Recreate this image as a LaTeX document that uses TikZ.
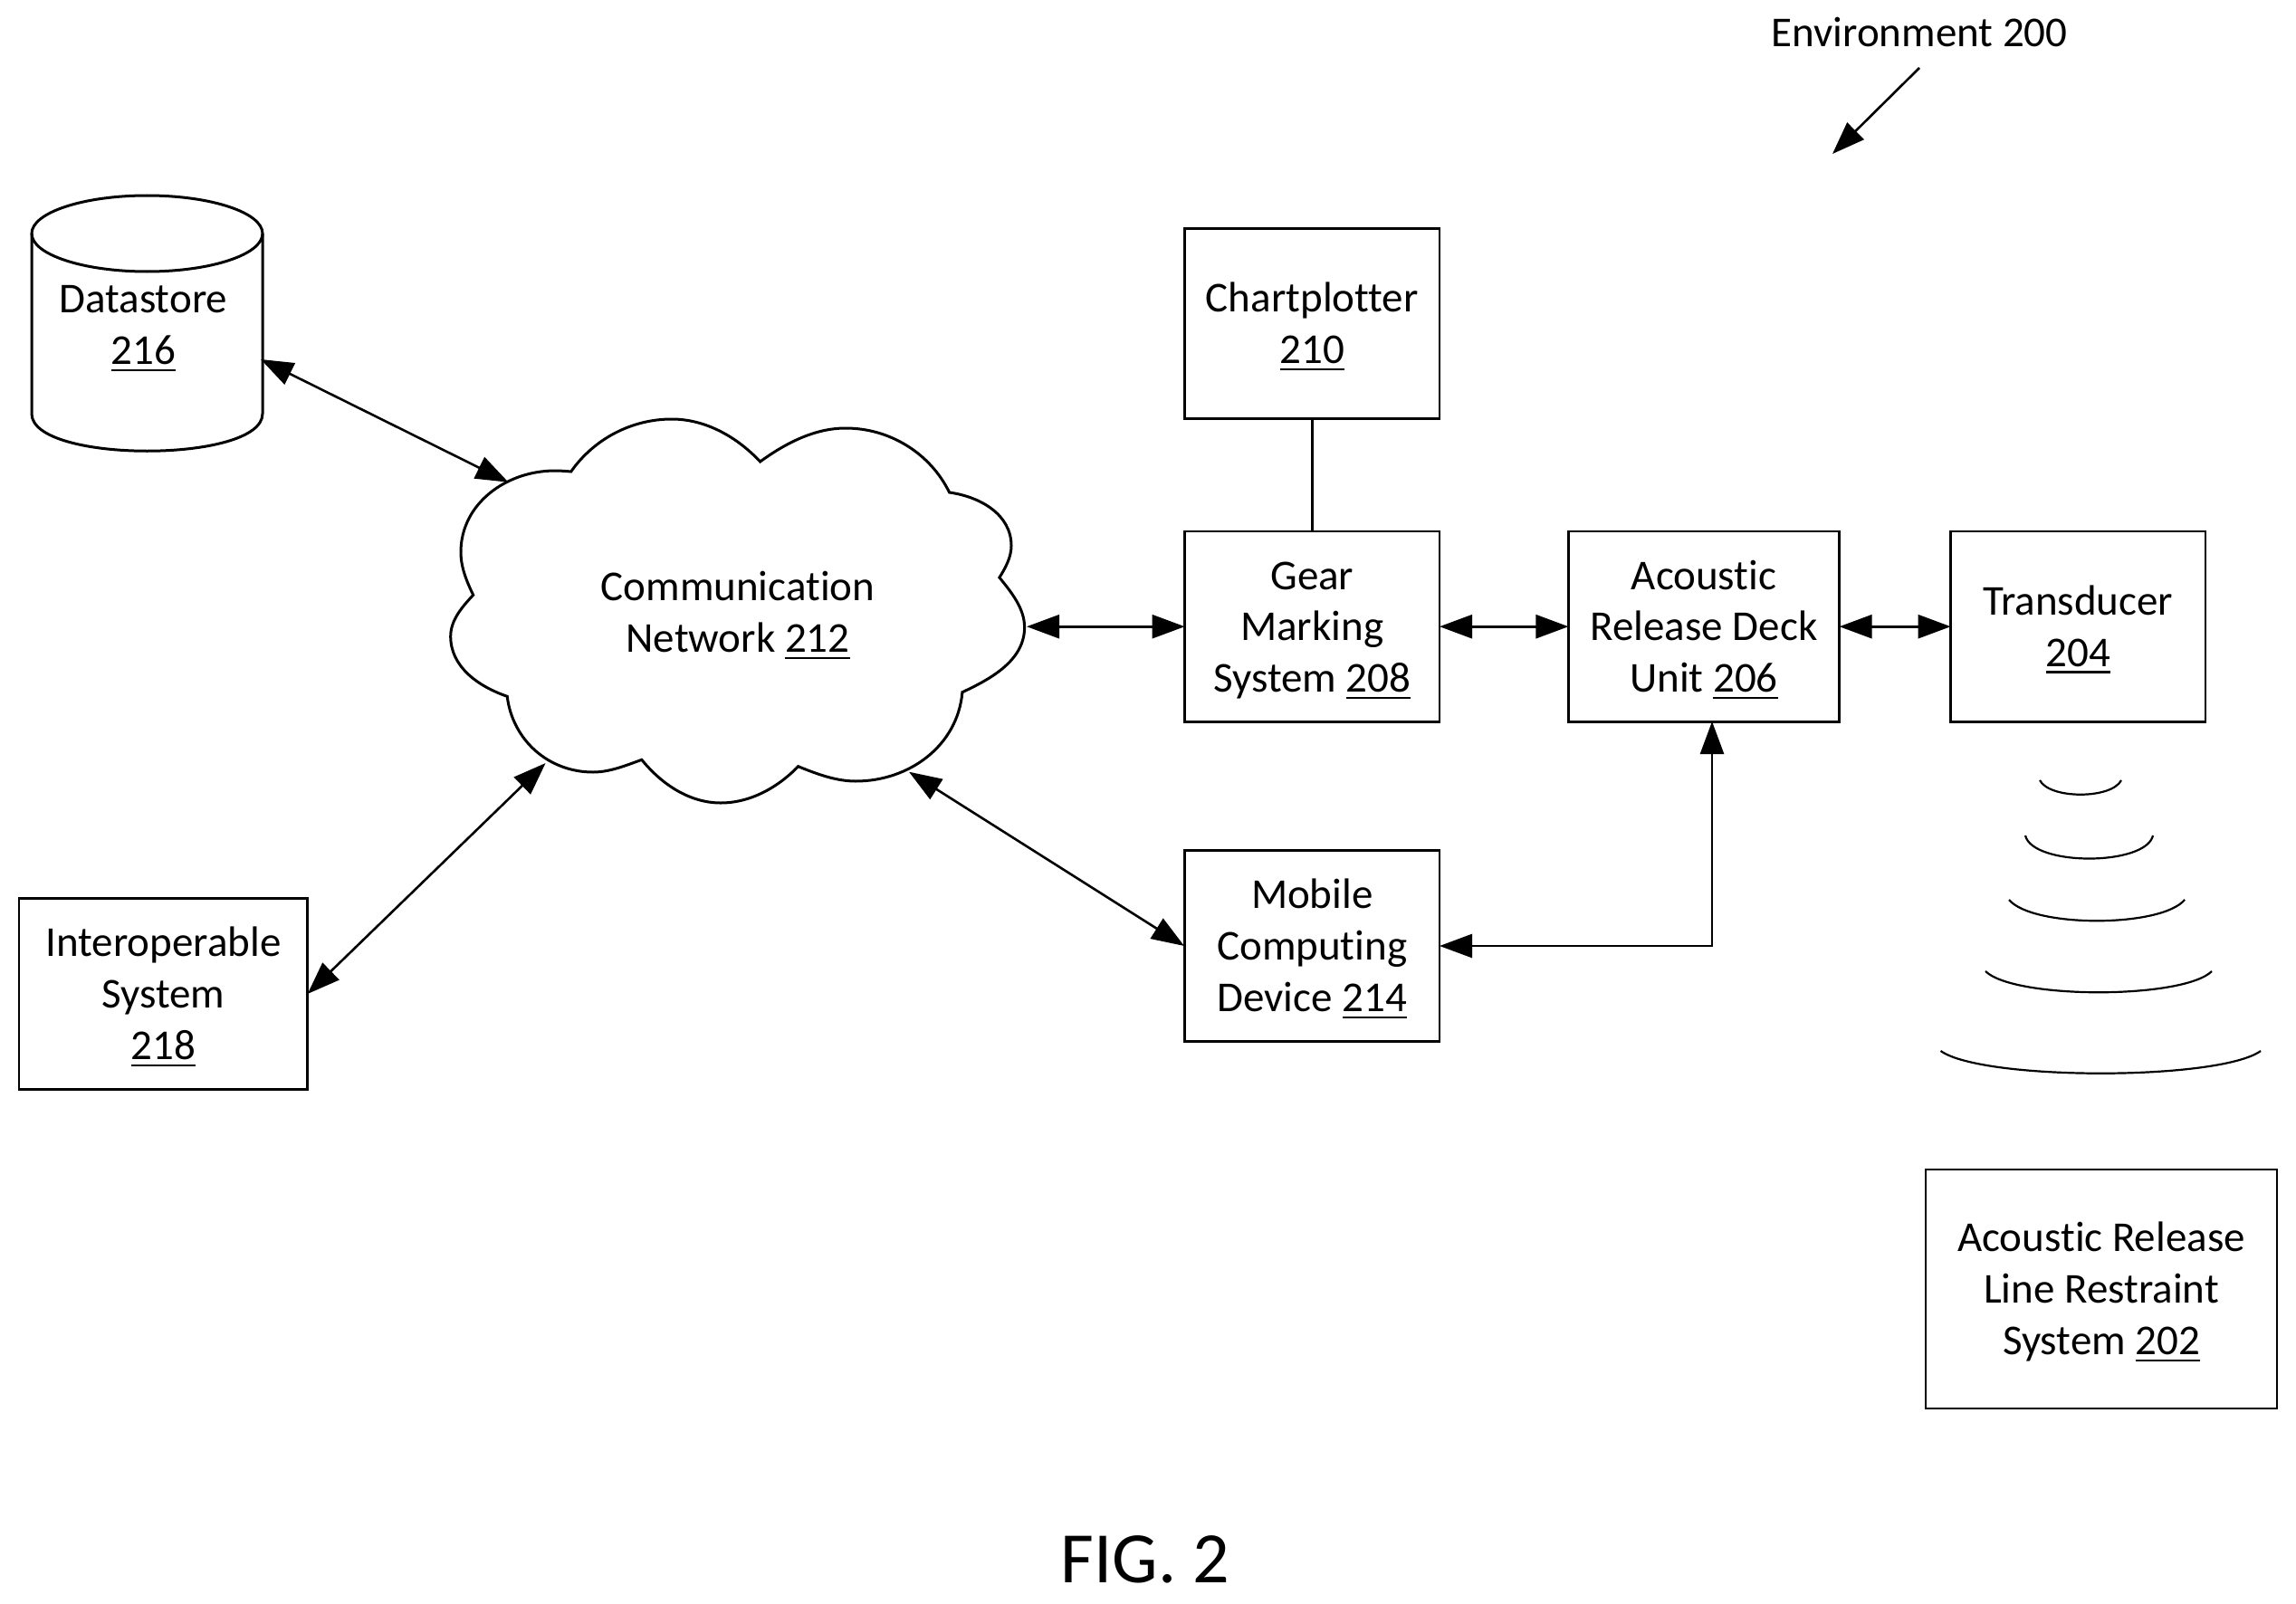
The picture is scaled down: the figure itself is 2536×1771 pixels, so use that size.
\documentclass[tikz,border=0pt]{standalone}
\usepackage{fontspec}
\setmainfont[Ligatures=NoCommon]{Carlito}
\usetikzlibrary{arrows.meta}
\newcommand\ulnum[1]{\leavevmode\setbox0=\hbox{#1}\rlap{\rule[-3.85pt]{\wd0}{1.35pt}}\box0 }
\newcommand\txtb[1]{\begin{tabular}{@{}c@{}}\noalign{\vskip 4.4pt}#1\end{tabular}}
\tikzset{
  lbl/.style={font=\fontsize{23.5}{28.4}\selectfont,inner sep=0pt,outer sep=0pt},
  boxn/.style={lbl,draw=black,line width=1.35pt,fill=white},
  shp/.style={draw=black,line width=1.5pt},
  wave/.style={draw=black,line width=1.1pt},
  tipa/.tip={Triangle[length=18pt,width=13pt]},
  dbl/.style={line width=1.3pt,tipa-tipa},
  sgl/.style={line width=1.3pt,-tipa},
  plain/.style={line width=1.3pt},
}
\begin{document}
\begin{tikzpicture}[x=0.5pt,y=-0.5pt]
\useasboundingbox (0,0) rectangle (2536,1771);
% boxes
\node[boxn,minimum width=140.7pt,minimum height=105.2pt] (chart) at (1449.3,357.5) {\txtb{Chartplotter\\\ulnum{210}}};
\node[boxn,minimum width=140.7pt,minimum height=105.2pt] (gear) at (1449.3,692.2) {\txtb{Gear\\Marking\\System \ulnum{208}}};
\node[boxn,minimum width=149.6pt,minimum height=105.2pt] (deck) at (1882,692.2) {\txtb{Acoustic\\Release Deck\\Unit \ulnum{206}}};
\node[boxn,minimum width=140.7pt,minimum height=105.2pt] (trans) at (2295.3,692.2) {\txtb{Transducer\\\ulnum{204}}};
\node[boxn,minimum width=140.7pt,minimum height=105.2pt] (mobile) at (1449.3,1045) {\txtb{Mobile\\Computing\\Device \ulnum{214}}};
\node[boxn,minimum width=159.4pt,minimum height=105.2pt] (interop) at (180.4,1098) {\txtb{Interoperable\\System\\\ulnum{218}}};
\node[boxn,minimum width=194pt,minimum height=132pt] (release) at (2321,1424) {\txtb{Acoustic Release\\Line Restraint\\System \ulnum{202}}};
% datastore
\draw[shp] (35,258) arc[start angle=180,end angle=360,x radius=127.5,y radius=-42]
  arc[start angle=0,end angle=180,x radius=127.5,y radius=-42] -- cycle;
\draw[shp] (35,258) -- (35,457) .. controls (35,512) and (290,512) .. (290,457) -- (290,258);
\node[lbl] (store) at (158.3,358.5) {\txtb{Datastore\\\ulnum{216}}};
\coordinate (storeR) at (288,397);
% cloud
\draw[shp,fill=white]
 (630.7,521) to[out=55,in=180,looseness=.9] (742,463) to[out=0,in=133,looseness=.88] (839.6,510)
 to[out=36,in=180,looseness=.87] (934,473) to[out=0,in=116,looseness=.92] (1048.6,544)
 to[out=-8,in=90,looseness=.98] (1117,603) to[out=-90,in=58,looseness=.86] (1103.9,638)
 to[out=-51,in=90,looseness=.87] (1131.6,693) to[out=-90,in=25,looseness=.93] (1062.9,764.7)
 to[out=-95,in=0,looseness=.99] (945,863) to[out=180,in=-22,looseness=.85] (881.6,846.7)
 to[out=-134,in=0,looseness=.88] (796,887) to[out=180,in=-51,looseness=.89] (708.8,839.3)
 to[out=-160,in=0,looseness=.85] (655,853) to[out=180,in=-83,looseness=.99] (560.2,769.3)
 to[out=161,in=-90,looseness=.95] (497.7,703) to[out=90,in=-133,looseness=.88] (522.7,657.3)
 to[out=116,in=-90,looseness=.86] (509,610) to[out=90,in=180] (613,520) to[out=0,in=175,looseness=.85] cycle;
\node[lbl] (net) at (815,676.6) {\txtb{Communication\\Network \ulnum{212}}};
\coordinate (netNW) at (561.5,532.7);
\coordinate (netSW) at (602.6,843);
\coordinate (netSE) at (1004,852.7);
\coordinate (netE) at (1134,692.2);
\coordinate (interopR) at (339.7,1098);
\coordinate (mobileL) at (1308,1045);
\coordinate (corner) at (1891,1045);
\coordinate (deckB) at (1891,797);
% connectors
\draw[dbl] (storeR) -- (netNW);
\draw[dbl] (interopR) -- (netSW);
\draw[dbl] (netSE) -- (mobileL);
\draw[dbl] (netE) -- (gear.west);
\draw[dbl] (gear.east) -- (deck.west);
\draw[dbl] (deck.east) -- (trans.west);
\draw[plain] (chart.south) -- (gear.north);
\draw[dbl] (mobile.east) -- (corner) -- (deckB);
% waves
\draw[wave] (2253,862) .. controls (2264,883) and (2332,883) .. (2343,862);
\draw[wave] (2237,923) .. controls (2245,957) and (2370,957) .. (2378,923);
\draw[wave] (2219,994) .. controls (2245,1025) and (2387,1025) .. (2413,994);
\draw[wave] (2193,1073) .. controls (2225,1104) and (2411,1104) .. (2443,1073);
\draw[wave] (2143.5,1161) .. controls (2190,1194) and (2451,1194) .. (2497,1161);
% environment
\node[lbl] (env) at (2120,35.6) {\txtb{Environment 200}};
\coordinate (envS) at (2120,75);
\coordinate (envT) at (2024,170);
\draw[sgl] (envS) -- (envT);
\node[lbl,font=\fontsize{40}{46}\selectfont] (fig) at (1265,1722.5) {FIG. 2};
\end{tikzpicture}
\end{document}
